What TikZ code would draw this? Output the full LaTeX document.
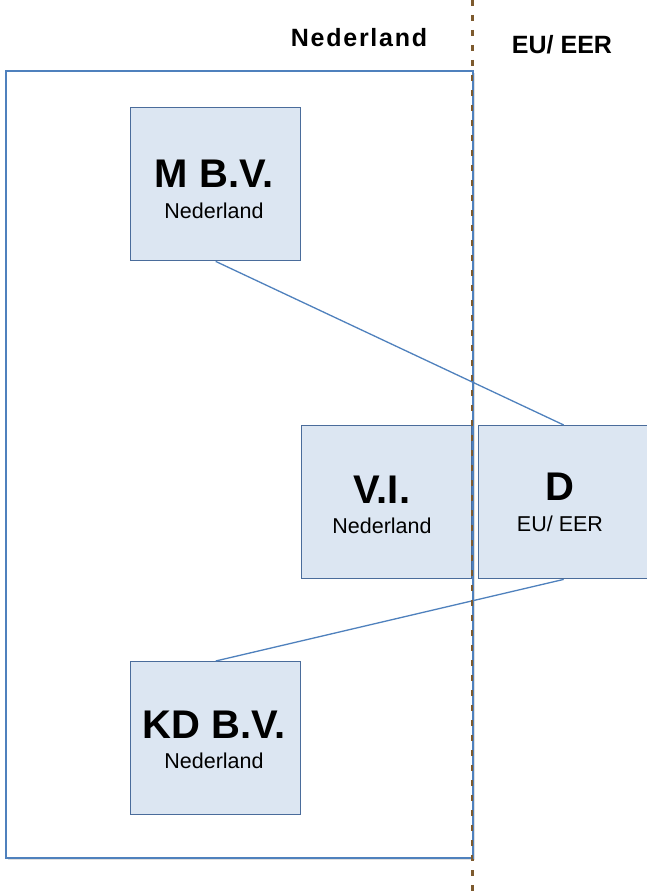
\documentclass[tikz,border=0pt]{standalone}
\usepackage{fontspec}
\setmainfont{Liberation Sans}
\usetikzlibrary{shadows}
\definecolor{frameblue}{HTML}{4F81BD}
\definecolor{boxedge}{HTML}{4A6C9B}
\definecolor{boxfill}{HTML}{DCE6F2}
\definecolor{borderline}{HTML}{7D5A2E}
\tikzset{
  x=1pt, y=-1pt,
  entity/.style={draw=boxedge, fill=boxfill, line width=1.4pt, rectangle,
    minimum width=170pt, minimum height=153pt, inner sep=0pt, anchor=north west},
  title/.style={font=\fontsize{40}{44}\selectfont\bfseries, anchor=base, inner sep=0pt},
  place/.style={font=\fontsize{21.5}{24}\selectfont, anchor=base, inner sep=0pt},
  header/.style={font=\fontsize{25}{28}\selectfont\bfseries, anchor=base, inner sep=0pt},
  link/.style={draw=frameblue, line width=1.3pt}
}
\begin{document}
\begin{tikzpicture}
\useasboundingbox (0,0) rectangle (647,891);
% Dutch jurisdiction frame
\node[draw=frameblue, line width=1.5pt, fill=white, rectangle, minimum width=467pt,
  minimum height=787pt, inner sep=0pt, anchor=north west,
  drop shadow={shadow xshift=2pt, shadow yshift=-2pt, fill=black!25}] (nl) at (5,70) {};
% headers
\node[header, font=\fontsize{25}{28}\selectfont\bfseries\addfontfeature{LetterSpace=7}] (hnl) at (359,47) {Nederland};
\node[header] (heu) at (562,53) {EU/ EER};
% entities
\node[entity] (mbv) at (130,107) {};
\node[title] (tm) at (214,187) {M B.V.};
\node[place] (pm) at (214,218) {Nederland};
\node[entity] (vi) at (301,425) {};
\node[title] (tvi) at (382,503) {V.I.};
\node[place] (pvi) at (382,533) {Nederland};
\node[entity] (d) at (478,425) {};
\node[title] (td) at (560,500) {D};
\node[place] (pd) at (560,531) {EU/ EER};
\node[entity] (kd) at (130,661) {};
\node[title] (tkd) at (214,738) {KD B.V.};
\node[place] (pkd) at (214,768) {Nederland};
% ownership links
\draw[link] (mbv.south) -- (d.north);
\draw[link] (d.south) -- (kd.north);
% border between the Netherlands and the EU/EEA
\coordinate (btop) at (472,0);
\coordinate (bbot) at (472,891);
\draw[borderline, line width=3pt, dash pattern=on 6pt off 9pt] (btop) -- (bbot);
% frame edge lies over the border line
\draw[frameblue, line width=1.5pt] (nl.north east) -- (nl.south east);
\end{tikzpicture}
\end{document}
